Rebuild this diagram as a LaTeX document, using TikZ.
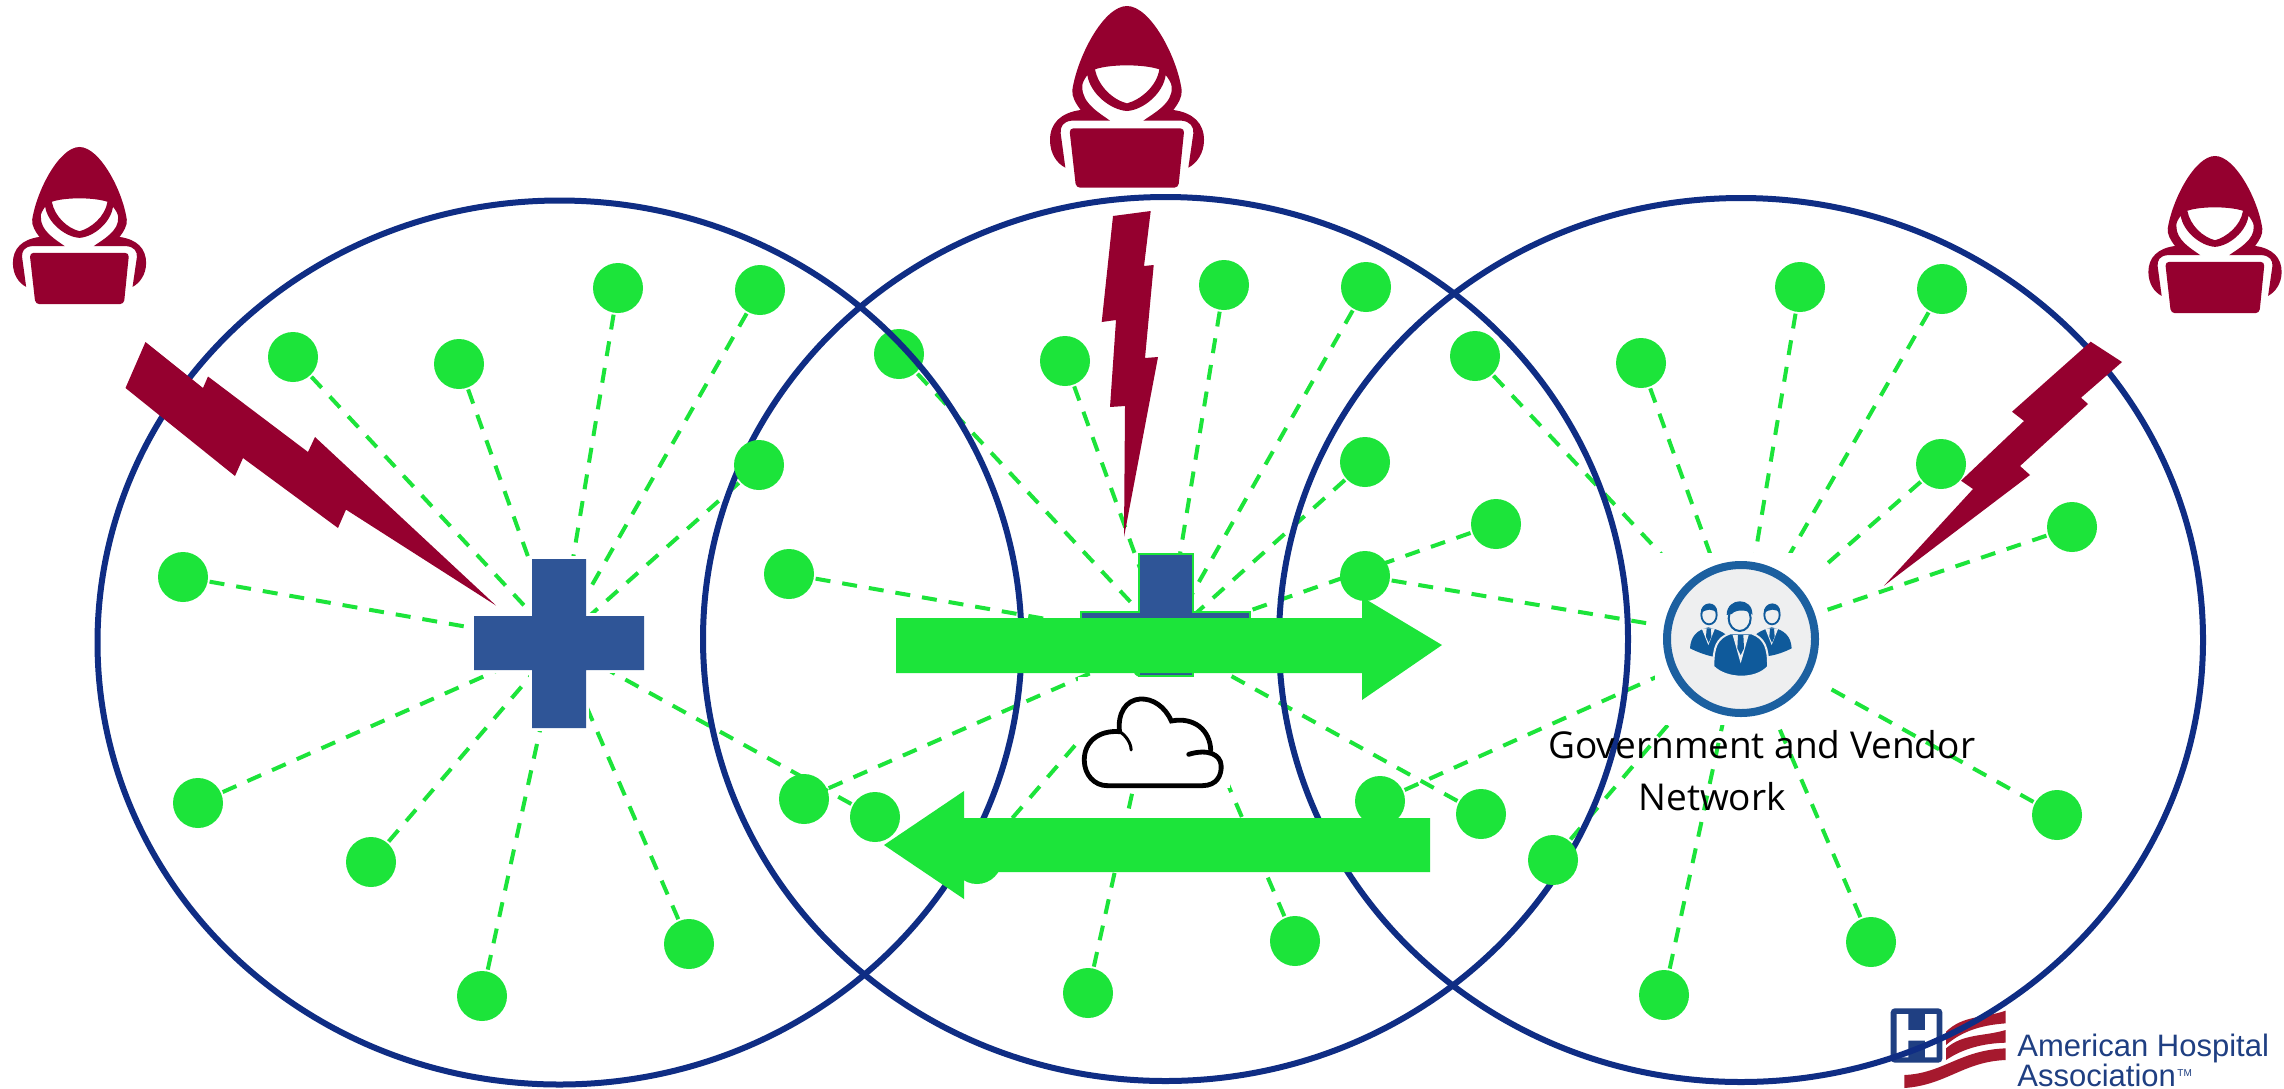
\documentclass[tikz,border=0pt]{standalone}
\usepackage{fontspec}
\setmainfont{Open Sans}
\newfontfamily\logofont{Liberation Sans}
\pgfdeclarelayer{paper}
\pgfdeclarelayer{lines}
\pgfsetlayers{paper,lines,main}
\definecolor{lime}{HTML}{1CE43A}
\definecolor{ringblue}{HTML}{0F2D84}
\definecolor{crossblue}{HTML}{2F5597}
\definecolor{maroon}{HTML}{95002F}
\definecolor{logoblue}{HTML}{1F3F82}
\definecolor{logored}{HTML}{A6192E}
\definecolor{hubblue}{HTML}{0F5A9B}
\definecolor{hubring}{HTML}{1C60A0}
\definecolor{hubface}{HTML}{EEEFF0}
\tikzset{
  dotnode/.style={circle,fill=lime,draw=none,minimum size=25pt,inner sep=0pt},
  spoke/.style={draw=lime,line width=2pt,dash pattern=on 7.5pt off 6pt},
  ringline/.style={draw=ringblue,line width=3pt},
  bigarrow/.style={fill=lime,draw=none},
  bolt/.style={fill=maroon,draw=none},
  label/.style={font=\fontsize{18.5}{26}\selectfont,align=left,inner sep=0pt,anchor=base west,text=black},
  logotext/.style={inner sep=0pt,anchor=base west,text=logoblue},
}
\newcommand{\hackerfig}[3]{%
  \begin{scope}[shift={(#1,#2)},x=#3pt,y=-#3pt]
    \fill[maroon,even odd rule]
      (0,18) .. controls (70,18) and (150,170) .. (164,270)
      .. controls (166,290) and (154,310) .. (139,330)
      .. controls (199,338) and (231,370) .. (231,420)
      .. controls (231,460) and (209,490) .. (184,503)
      -- (199,400) .. controls (201,380) and (189,364) .. (164,362)
      -- (49,362) .. controls (79,340) and (139,310) .. (134,260)
      .. controls (134,250) and (124,235) .. (116,225)
      .. controls (109,280) and (49,330) .. (0,333)
      .. controls (-50,330) and (-111,280) .. (-119,225)
      .. controls (-126,235) and (-136,250) .. (-134,260)
      .. controls (-136,310) and (-81,340) .. (-51,362)
      -- (-166,362) .. controls (-191,364) and (-201,380) .. (-199,400)
      -- (-185,503) .. controls (-211,490) and (-231,460) .. (-231,420)
      .. controls (-231,370) and (-199,338) .. (-139,330)
      .. controls (-154,310) and (-166,290) .. (-164,270)
      .. controls (-149,170) and (-70,18) .. (0,18) -- cycle
      (-96,208) .. controls (-51,192) and (49,192) .. (97,208)
      .. controls (89,260) and (39,300) .. (0,310)
      .. controls (-41,300) and (-86,260) .. (-96,208) -- cycle;
    \fill[maroon,rounded corners=2pt]
      (-173,385) -- (172,385) -- (154,563) -- (-153,563) -- cycle;
  \end{scope}}
\begin{document}
\begin{tikzpicture}[x=.5pt,y=-.5pt]
\useasboundingbox (0,0) rectangle (2284,1088);
\begin{pgfonlayer}{paper}
\fill[white] (0,0) rectangle (2284,1088);
\end{pgfonlayer}

% hubs
\coordinate (hubL) at (559,643);
\coordinate (hubM) at (1166,640);
\coordinate (hubR) at (1741,639);

% logo
\begin{scope}[shift={(1860,980)},x=1pt/6,y=-1pt/6]
  \fill[logoblue,rounded corners=2pt] (92,85) rectangle (247,248);
  \fill[white] (110,102) rectangle (145,232) (195,102) rectangle (230,232) (145,150) rectangle (195,182);
  \fill[logored] (258,155) .. controls (310,105) and (370,115) .. (437,92) -- (437,130) .. controls (370,135) and (310,150) .. (258,195) -- cycle;
  \fill[logored] (258,205) .. controls (310,160) and (370,170) .. (437,150) -- (437,188) .. controls (370,190) and (310,205) .. (258,240) -- cycle;
  \fill[logored] (133,285) .. controls (250,280) and (300,210) .. (437,205) -- (437,240) .. controls (310,245) and (260,315) .. (133,324) -- cycle;
\end{scope}
\node[logotext,font=\logofont\fontsize{15.5}{15.5}\selectfont] (logoA) at (2017,1056) {American Hospital};
\node[logotext,font=\logofont\fontsize{15.5}{15.5}\selectfont] (logoB) at (2017,1086) {Association};
\node[logotext,font=\logofont\fontsize{5}{5}\selectfont] (logoC) at (2177,1076) {TM};

% big circles and dots, in the stacking order of the picture
\draw[ringline] (1165.5,639) ellipse [x radius=462.5,y radius=442];
\draw[ringline] (1741,640) ellipse [x radius=462,y radius=442];
\foreach \n/\px/\py in {1/1224/285,2/1366/287,3/899/354,4/1065/361,5/1365/462,6/789/574,7/804/799,8/977/859,9/1088/993,10/1295/941,11/1481/814,12/1496/524}
  \node[dotnode] (M\n) at (\px,\py) {};
\draw[ringline] (559.5,642.5) ellipse [x radius=462,y radius=442];
\foreach \n/\px/\py in {1/618/288,2/760/290,3/293/357,4/459/364,5/759/465,6/183/577,7/198/803,8/371/862,9/482/996,10/689/944,11/875/817}
  \node[dotnode] (L\n) at (\px,\py) {};
\foreach \n/\px/\py in {1/1800/287,2/1942/289,3/1475/356,4/1641/363,5/1941/464,6/1365/576,7/1380/801,8/1553/860,9/1664/995,10/1871/942,11/2057/815,12/2072/527}
  \node[dotnode] (R\n) at (\px,\py) {};

\begin{pgfonlayer}{lines}
\foreach \n in {1,...,11} \draw[spoke] (L\n.center) -- (hubL);
\foreach \n in {1,...,12} \draw[spoke] (M\n.center) -- (hubM);
\foreach \n in {1,...,12} \draw[spoke] (R\n.center) -- (hubR);
\fill[white] (1655,553) rectangle (1827,725);
\end{pgfonlayer}

% left cross
\path[fill=white,draw=white,line width=3pt]
  (532,559) -- (586,559) -- (586,616) -- (644,616) -- (644,670) -- (586,670) -- (586,728) -- (532,728) -- (532,670) -- (474,670) -- (474,616) -- (532,616) -- cycle;
\fill[crossblue]
  (532,559) -- (586,559) -- (586,616) -- (644,616) -- (644,670) -- (586,670) -- (586,728) -- (532,728) -- (532,670) -- (474,670) -- (474,616) -- (532,616) -- cycle;

% middle cross
\path[fill=crossblue,draw=lime,line width=.8pt]
  (1139,554) -- (1193,554) -- (1193,612) -- (1250,612) -- (1250,666) -- (1193,666) -- (1193,676) -- (1139,676) -- (1139,666) -- (1081,666) -- (1081,612) -- (1139,612) -- cycle;

% white box behind the cloud
\fill[white] (1078,677) rectangle (1230,788);

% arrows
\fill[bigarrow] (896,618) -- (1362,618) -- (1362,597) -- (1442,645) -- (1362,700) -- (1362,673) -- (896,673) -- cycle;
\fill[bigarrow] (1430,818) -- (964,818) -- (964,791) -- (884,845) -- (964,899) -- (964,872) -- (1430,872) -- cycle;

% cloud
\begin{scope}[shift={(850,520)},x=.2073pt,y=-1pt/6]
  \draw[black,line width=2.4pt,line cap=round]
    (620,797) -- (850,797) .. controls (885,797) and (897,765) .. (895,735)
    .. controls (893,705) and (865,685) .. (817,703);
  \draw[black,line width=2.4pt,line cap=round]
    (870,690) .. controls (868,630) and (830,590) .. (775,603)
    .. controls (760,560) and (730,535) .. (700,537)
    .. controls (665,540) and (645,580) .. (650,635)
    .. controls (600,630) and (565,665) .. (565,720)
    .. controls (565,765) and (590,797) .. (620,797);
  \draw[black,line width=1.5pt,line cap=round]
    (650,635) .. controls (665,645) and (678,670) .. (678,690);
\end{scope}

% hub on the right
\node[circle,fill=hubface,draw=hubring,line width=4pt,minimum size=74pt,inner sep=0pt] (hubicon) at (hubR) {};
\begin{scope}[shift={(1500,520)},x=1pt/6,y=-1pt/6]
  % left person
  \fill[hubblue] (570,385) .. controls (572,350) and (590,330) .. (625,322) .. controls (660,330) and (680,340) .. (690,360) -- (640,410) .. controls (615,405) and (590,395) .. (570,385) -- cycle;
  \fill[hubface] (605,325) -- (625,375) -- (645,325) -- cycle;
  \fill[hubblue] (620,325) -- (632,325) -- (634,350) -- (626,368) -- (618,350) -- cycle;
  \draw[hubblue,line width=.9pt,fill=hubface] (627,285) ellipse [x radius=23,y radius=28];
  \fill[hubblue] (602,282) .. controls (600,240) and (655,240) .. (652,280) .. controls (640,265) and (615,265) .. (602,282) -- cycle;
  % right person
  \fill[hubblue] (875,385) .. controls (873,350) and (855,330) .. (815,322) .. controls (785,330) and (765,340) .. (755,360) -- (805,408) .. controls (830,405) and (855,395) .. (875,385) -- cycle;
  \fill[hubface] (795,325) -- (815,375) -- (835,325) -- cycle;
  \fill[hubblue] (810,325) -- (822,325) -- (824,350) -- (816,368) -- (808,350) -- cycle;
  \draw[hubblue,line width=.9pt,fill=hubface] (816,285) ellipse [x radius=23,y radius=28];
  \fill[hubblue] (791,282) .. controls (789,240) and (844,240) .. (841,280) .. controls (830,265) and (805,265) .. (791,282) -- cycle;
  % centre person
  \path[fill=hubblue,draw=hubface,line width=1pt] (640,440) .. controls (640,380) and (650,355) .. (690,340) -- (755,340) .. controls (795,355) and (805,385) .. (804,440) .. controls (770,480) and (680,480) .. (640,440) -- cycle;
  \fill[hubface] (698,345) -- (722,430) -- (746,345) -- cycle;
  \fill[hubblue] (714,345) -- (730,345) -- (732,385) -- (722,405) -- (712,385) -- cycle;
  \draw[hubblue,line width=1pt,fill=hubface] (719,295) ellipse [x radius=33,y radius=38];
  \fill[hubblue] (680,285) .. controls (680,230) and (760,230) .. (757,285) .. controls (750,270) and (710,265) .. (695,282) -- cycle;
\end{scope}

% bolts
\fill[bolt] (145.5,342) -- (203,388) -- (208,376.5) -- (308,452) -- (315,437) -- (496,605.5) -- (346,509.6) -- (338,528) -- (243,458) -- (235,476) -- (125.5,388) -- cycle;
\fill[bolt] (1150.7,211) -- (1144,266) -- (1153.7,265) -- (1145,358) -- (1158,357) -- (1124,537) -- (1125,406) -- (1110,407) -- (1116,320) -- (1101.7,322) -- (1113,216) -- cycle;
\fill[bolt] (2090.7,341.7) -- (2122,362) -- (2081,397.7) -- (2088,404) -- (2020,466) -- (2030,475) -- (1884,585.7) -- (1973,489) -- (1961,480.7) -- (2024,421) -- (2012,411.7) -- cycle;

% hackers
\hackerfig{79.5}{141.8}{.1442}
\hackerfig{1127}{0}{.16667}
\hackerfig{2215}{150.8}{.1442}

% label
\node[label] (govlabel) at (1548,810) {Government and Vendor\\\hspace*{45pt}Network};
\end{tikzpicture}
\end{document}
